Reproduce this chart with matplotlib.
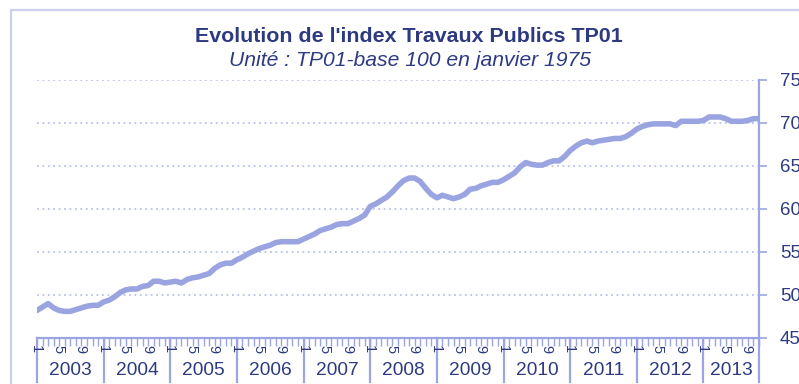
import matplotlib.pyplot as plt
from matplotlib import rcParams
from matplotlib.patches import Rectangle
import matplotlib.transforms as mtransforms

rcParams['font.family'] = ['Liberation Sans', 'DejaVu Sans']

# Indice TP01 mensuel (base 100 en janvier 1975)
years = [2003, 2004, 2005, 2006, 2007, 2008, 2009, 2010, 2011, 2012, 2013]
tp01_2003 = [482, 486, 490, 485, 482, 481, 481, 483, 485, 487, 488, 488]
tp01_2004 = [492, 494, 498, 503, 506, 507, 507, 510, 511, 516, 516, 514]
tp01_2005 = [515, 516, 514, 518, 520, 521, 523, 525, 531, 535, 537, 537]
tp01_2006 = [541, 544, 548, 551, 554, 556, 558, 561, 562, 562, 562, 562]
tp01_2007 = [565, 568, 571, 575, 577, 579, 582, 583, 583, 586, 589, 593]
tp01_2008 = [603, 606, 610, 614, 620, 627, 633, 636, 636, 632, 624, 617]
tp01_2009 = [613, 616, 614, 612, 614, 617, 623, 624, 627, 629, 631, 631]
tp01_2010 = [634, 638, 642, 649, 654, 652, 651, 651, 654, 656, 656, 661]
tp01_2011 = [668, 673, 677, 679, 677, 679, 680, 681, 682, 682, 684, 688]
tp01_2012 = [693, 696, 698, 699, 699, 699, 699, 697, 702, 702, 702, 702]
tp01_2013 = [703, 707, 707, 707, 705, 702, 702, 702, 703, 705, 705]
month_labels = {1: '1', 5: '5', 9: '9'}
y_ticks = [450, 500, 550, 600, 650, 700, 750]

series = [tp01_2003, tp01_2004, tp01_2005, tp01_2006, tp01_2007, tp01_2008,
          tp01_2009, tp01_2010, tp01_2011, tp01_2012, tp01_2013]
values = [v for s in series for v in s]
x = list(range(len(values)))

line_col = '#9aa4e0'
axis_col = '#9ca5e2'
grid_col = '#b9c1ee'
text_col = '#2d3a82'

fig = plt.figure(figsize=(7.99, 3.84), dpi=100)
ax = fig.add_axes([37 / 799, 1 - 338 / 384, (759 - 37) / 799, (338 - 80) / 384])

# cadre du graphique
fig.patches.append(Rectangle((11 / 799, -0.2), 1.2, 1.2 - 10 / 384,
                             transform=fig.transFigure, fill=False,
                             edgecolor='#c9d0f0', linewidth=1.6))

ax.plot(x, values, color=line_col, linewidth=4.0, solid_joinstyle='round',
        solid_capstyle='round', zorder=3)

ax.set_xlim(0, len(values) - 1)
ax.set_ylim(450, 750)

# axe vertical à droite
ax.yaxis.tick_right()
ax.set_yticks(y_ticks)
ax.set_yticklabels([str(t) for t in y_ticks])
ax.tick_params(axis='y', direction='out', length=6, width=1.2, color=axis_col,
               labelsize=13.5, labelcolor=text_col, pad=9)
for t in y_ticks[1:]:
    ax.axhline(t, color=grid_col, linestyle=(0, (1, 2)), linewidth=1.3, zorder=1)

for side in ['left', 'top']:
    ax.spines[side].set_visible(False)
for side in ['right', 'bottom']:
    ax.spines[side].set_color(axis_col)
    ax.spines[side].set_linewidth(1.6)

# axe des mois
ax.set_xticks(x)
ax.set_xticklabels([])
ax.tick_params(axis='x', direction='out', length=6, width=1.0, color=axis_col)

trans = mtransforms.blended_transform_factory(ax.transData, ax.transAxes)
for i in x:
    m = i % 12 + 1
    if m in month_labels:
        ax.text(i - 0.2, -0.044, month_labels[m], transform=trans, rotation=-90,
                ha='center', va='center', fontsize=10.5, color=text_col)

# séparateurs et libellés des années
for k, yr in enumerate(years):
    x0 = 12 * k
    x1 = min(12 * (k + 1), len(values) - 1)
    ax.plot([x0, x0], [0, -0.172], transform=trans, color=axis_col,
            linewidth=1.6, clip_on=False)
    ax.text((x0 + x1) / 2, -0.126, str(yr), transform=trans, ha='center',
            va='center', fontsize=13.8, color=text_col)
ax.plot([len(values) - 1] * 2, [0, -0.172], transform=trans, color=axis_col,
        linewidth=1.6, clip_on=False)

fig.text(409 / 799, 1 - 36 / 384, "Evolution de l'index Travaux Publics TP01",
         ha='center', va='center', fontsize=15.4, fontweight='bold', color=text_col)
fig.text(410 / 799, 1 - 60 / 384, "Unité : TP01-base 100 en janvier 1975",
         ha='center', va='center', fontsize=15.2, fontstyle='italic', color=text_col)

fig.savefig('out.png', dpi=100)
